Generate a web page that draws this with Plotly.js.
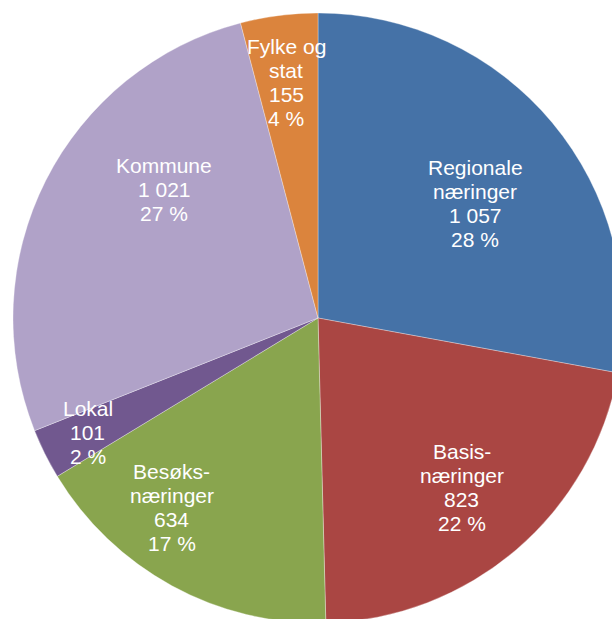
<!DOCTYPE html>
<html>
<head>
<meta charset="utf-8">
<script src="https://cdn.plot.ly/plotly-3.0.1.min.js"></script>
<style>
  html, body { margin: 0; padding: 0; background: #ffffff; overflow: hidden; width: 612px; height: 619px; }
  #chart { position: absolute; left: 13px; top: 13px; width: 610px; height: 610px; }
</style>
</head>
<body>
<div id="chart"></div>
<script>
// Data
const categories = ['Regionale næringer', 'Basis-næringer', 'Besøks-næringer', 'Lokal', 'Kommune', 'Fylke og stat'];
const labelLines = [['Regionale', 'næringer'], ['Basis-', 'næringer'], ['Besøks-', 'næringer'], ['Lokal'], ['Kommune'], ['Fylke og', 'stat']];
const values = [1057, 823, 634, 101, 1021, 155];
const percents = [28, 22, 17, 2, 27, 4];
const colors = ['#4572A7', '#AA4643', '#89A54E', '#71588F', '#B0A2C8', '#DB843D'];

// Label placement (style): fraction of radius and angular nudge in degrees
const labelRadius = [0.638, 0.728, 0.784, 0.843, 0.656, 0.78];
const labelAngleShift = [3.6, 0.2, 9, 0, 13, -0.3];

const W = 610, H = 610, R = 305, lineH = 24;
const total = values.reduce((a, b) => a + b, 0);
function fmt(v) { return String(v).replace(/\B(?=(\d{3})+(?!\d))/g, ' '); }

const annotations = [];
let cum = 0;
values.forEach((v, i) => {
  const mid = (cum + v / 2) / total * 360 + labelAngleShift[i];
  cum += v;
  const th = mid * Math.PI / 180;
  const r = labelRadius[i] * R;
  const x = 0.5 + r * Math.sin(th) / W;
  const y = 0.5 + r * Math.cos(th) / H;
  const lines = labelLines[i].concat([fmt(v), percents[i] + ' %']);
  const n = lines.length;
  lines.forEach((t, k) => {
    annotations.push({
      xref: 'paper', yref: 'paper', x: x, y: y,
      text: t, showarrow: false,
      xanchor: 'center', yanchor: 'middle',
      yshift: ((n - 1) / 2 - k) * lineH,
      font: { family: 'Liberation Sans, Arial, sans-serif', size: 21, color: '#ffffff' }
    });
  });
});

const trace = {
  type: 'pie',
  labels: categories,
  values: values,
  sort: false,
  direction: 'clockwise',
  rotation: 0,
  textinfo: 'none',
  hoverinfo: 'none',
  marker: { colors: colors, line: { color: 'rgba(255,255,255,0.45)', width: 0.7 } },
  domain: { x: [0, 1], y: [0, 1] }
};

Plotly.newPlot('chart', [trace], {
  width: W, height: H,
  margin: { l: 0, r: 0, t: 0, b: 0, pad: 0 },
  showlegend: false,
  paper_bgcolor: 'rgba(0,0,0,0)',
  plot_bgcolor: 'rgba(0,0,0,0)',
  annotations: annotations
}, { displayModeBar: false, staticPlot: true });
</script>
</body>
</html>
